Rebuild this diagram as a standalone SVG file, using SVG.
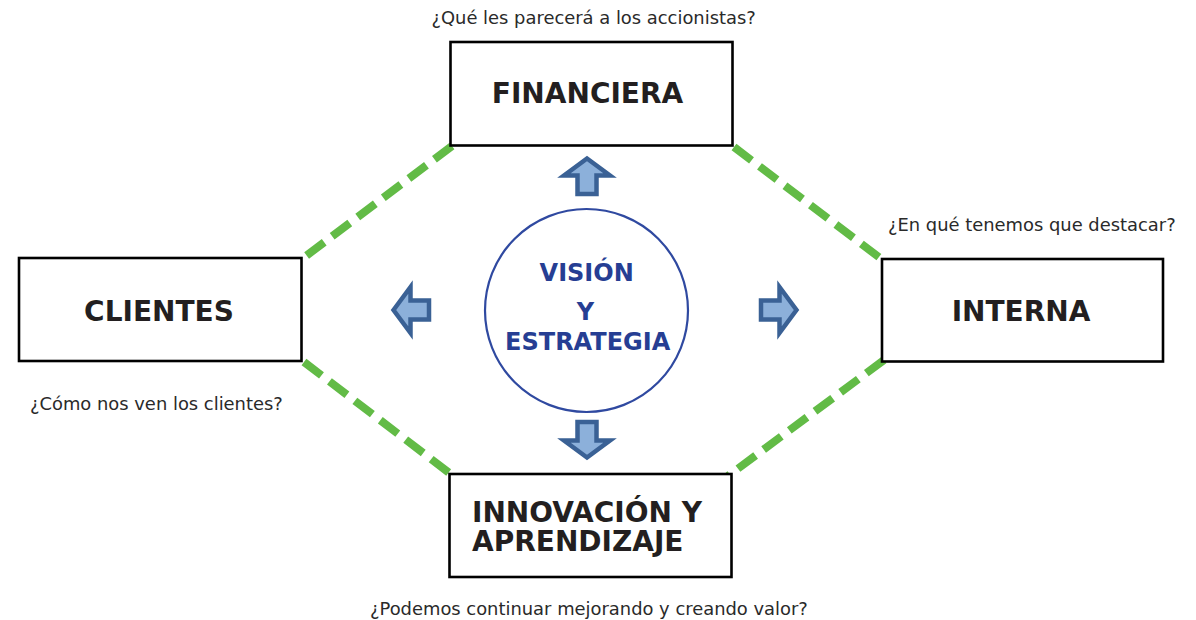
<svg xmlns="http://www.w3.org/2000/svg" width="1196" height="620" viewBox="0 0 1196 620">
  <style>
    .box { fill: #ffffff; stroke: #000000; stroke-width: 2.6; }
    .lbl { font-family: "DejaVu Sans", Verdana, sans-serif; font-weight: bold; font-size: 28px; fill: #231f20; }
    .q { font-family: "DejaVu Sans", Verdana, sans-serif; font-size: 17.9px; fill: #2a2a2a; }
    .vis { font-family: "DejaVu Sans", Verdana, sans-serif; font-weight: bold; font-size: 24px; fill: #263e93; text-anchor: middle; }
    .dash { stroke: #62bb46; stroke-width: 8; stroke-dasharray: 22 10; fill: none; }
    .arr { fill: #8cb0da; stroke: #3a6195; stroke-width: 4.5; stroke-linejoin: miter; }
  </style>
  <defs>
    <path id="arrow" d="M0,-17.5 L23,-0.5 L9.5,-0.5 L9.5,18 L-9.5,18 L-9.5,-0.5 L-23,-0.5 Z"/>
  </defs>
  <rect width="1196" height="620" fill="#ffffff"/>

  <g id="connectors">
    <line class="dash" x1="452" y1="146" x2="298" y2="262"/>
    <line class="dash" x1="734" y1="147" x2="884" y2="261"/>
    <line class="dash" x1="304" y1="362" x2="452" y2="475"/>
    <line class="dash" x1="884" y1="360" x2="728" y2="476"/>
    <use href="#arrow" class="arr" transform="translate(587,176)"/>
    <use href="#arrow" class="arr" transform="translate(587,440) rotate(180)"/>
    <use href="#arrow" class="arr" transform="translate(411,310) rotate(-90)"/>
    <use href="#arrow" class="arr" transform="translate(779,310) rotate(90)"/>
  </g>

  <g id="financiera">
    <rect class="box" x="450.5" y="42" width="282" height="103.5"/>
    <text class="lbl" x="587.5" y="103" text-anchor="middle">FINANCIERA</text>
    <text class="q" x="431.5" y="24">¿Qué les parecerá a los accionistas?</text>
  </g>

  <g id="clientes">
    <rect class="box" x="19" y="258" width="282.5" height="103"/>
    <text class="lbl" x="159" y="321" text-anchor="middle">CLIENTES</text>
    <text class="q" x="30" y="410">¿Cómo nos ven los clientes?</text>
  </g>

  <g id="interna">
    <rect class="box" x="882" y="259" width="281" height="102.5"/>
    <text class="lbl" x="1021" y="321" text-anchor="middle">INTERNA</text>
    <text class="q" x="888" y="231">¿En qué tenemos que destacar?</text>
  </g>

  <g id="innovacion">
    <rect class="box" x="449.5" y="474" width="282" height="103"/>
    <text class="lbl" x="472" y="522">INNOVACIÓN Y<tspan x="472" y="551">APRENDIZAJE</tspan></text>
    <text class="q" x="370" y="615">¿Podemos continuar mejorando y creando valor?</text>
  </g>

  <g id="vision">
    <circle cx="586.5" cy="310.5" r="101.5" fill="#ffffff" stroke="#2f49a0" stroke-width="2.2"/>
    <text class="vis" x="586.7" y="281">VISIÓN</text>
    <text class="vis" x="585.5" y="320">Y</text>
    <text class="vis" x="587.7" y="350">ESTRATEGIA</text>
  </g>
</svg>
